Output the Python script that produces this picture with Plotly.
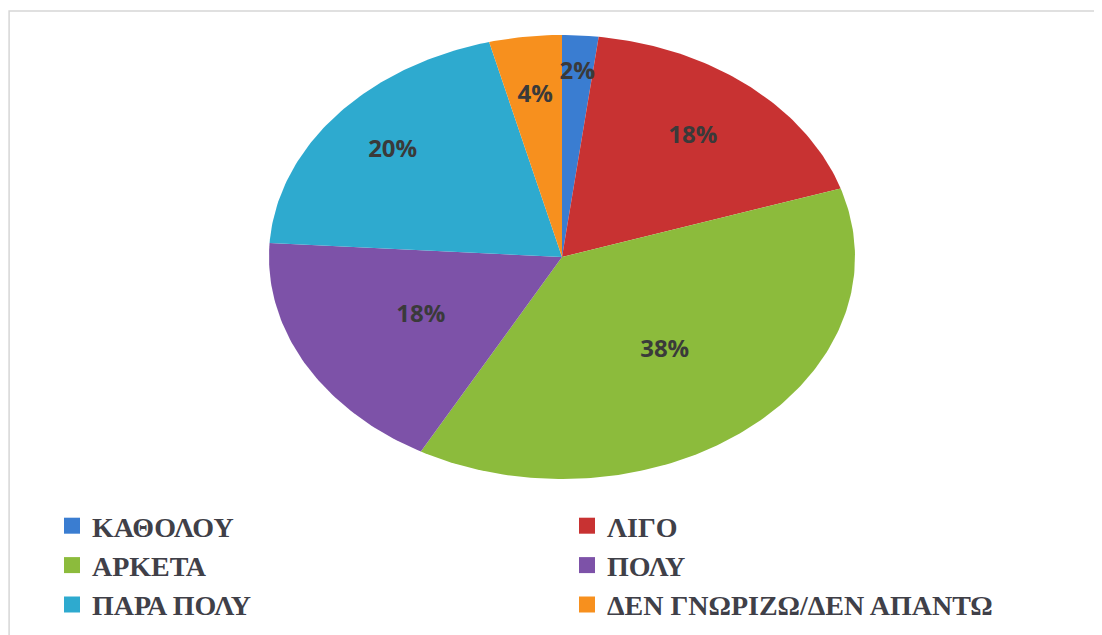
"""Pie chart of survey answers, drawn as an elliptical pie on pixel axes."""

import numpy as np
import plotly.graph_objects as go

labels = ["ΚΑΘΟΛΟΥ", "ΛΙΓΟ", "ΑΡΚΕΤΑ", "ΠΟΛΥ", "ΠΑΡΑ ΠΟΛΥ", "ΔΕΝ ΓΝΩΡΙΖΩ/ΔΕΝ ΑΠΑΝΤΩ"]
percents = [2, 18, 38, 18, 20, 4]
colors = ["#3a7dd1", "#c83232", "#8cbb3c", "#7d52a8", "#2eaacf", "#f7901e"]

W, H = 1102, 635
OFF = 8                # page body margin, axes are set up in screen pixels
CX, CY = 562, 257      # pie centre (px)
RX, RY = 293, 222      # the pie is stretched horizontally
LABEL_R = [0.83, 0.7, 0.55, 0.55, 0.75, 0.73]  # label distance, fraction of radius

fig = go.Figure()

total = sum(percents)
start = 0.0
lab_x, lab_y = [], []
for name, pct, color, lr in zip(labels, percents, colors, LABEL_R):
    a0 = start / total * 2 * np.pi
    a1 = (start + pct) / total * 2 * np.pi
    t = np.linspace(a0, a1, max(pct * 4, 12))
    xs = np.concatenate([[CX], CX + RX * np.sin(t), [CX]])
    ys = np.concatenate([[CY], CY - RY * np.cos(t), [CY]])
    fig.add_trace(go.Scatter(x=xs, y=ys, fill="toself", fillcolor=color, mode="lines",
                             line=dict(width=0, color=color), showlegend=False, hoverinfo="skip"))
    mid = (a0 + a1) / 2
    lab_x.append(CX + RX * lr * np.sin(mid))
    lab_y.append(CY - RY * lr * np.cos(mid))
    start += pct

fig.add_trace(go.Scatter(
    x=lab_x, y=lab_y, mode="text", text=[f"{p}%" for p in percents],
    textfont=dict(family="Open Sans", size=24, color="#3a3a3a", weight="bold"),
    showlegend=False, hoverinfo="skip",
))

# legend-only entries with square swatches
for name, color in zip(labels, colors):
    fig.add_trace(go.Scatter(x=[None], y=[None], mode="markers", name=name,
                             marker=dict(symbol="square", size=16, color=color)))

# light frame around the chart area
fig.add_shape(type="rect", xref="paper", yref="paper", x0=0.001, x1=1.2, y0=-0.2, y1=1 - 3 / H,
              line=dict(color="#d6d6d6", width=1.5), layer="below")

fig.update_layout(
    width=W, height=H, margin=dict(l=0, r=0, t=0, b=0),
    paper_bgcolor="white", plot_bgcolor="white",
    xaxis=dict(range=[OFF, W + OFF], visible=False, fixedrange=True),
    yaxis=dict(range=[H + OFF, OFF], visible=False, fixedrange=True),
    legend=dict(orientation="h", x=44 / W, xanchor="left", y=1 - 493 / H, yanchor="top",
                entrywidth=470, entrywidthmode="pixels", bgcolor="rgba(0,0,0,0)",
                font=dict(family="Liberation Serif, Times New Roman, serif", size=28,
                          color="#404048", weight="bold")),
)

fig.write_html("out.html")
